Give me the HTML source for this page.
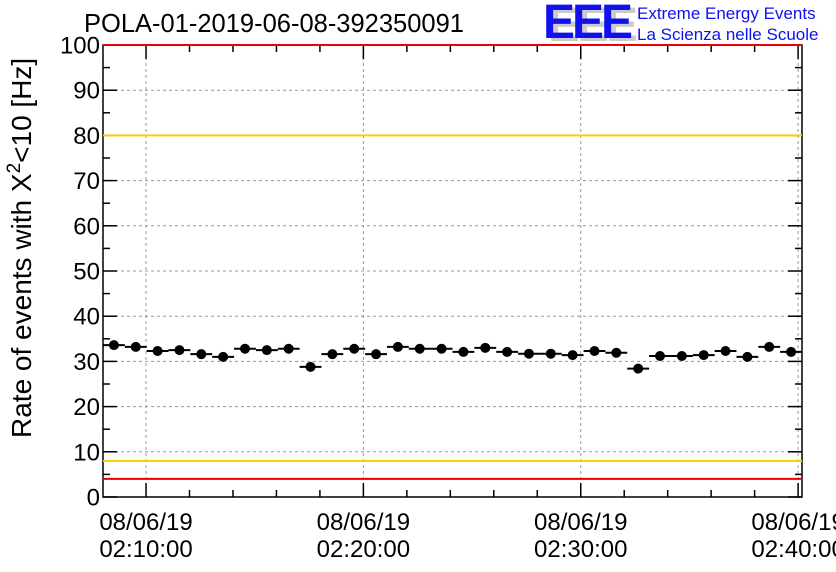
<!DOCTYPE html>
<html><head><meta charset="utf-8"><style>
body{margin:0;background:#fff;}
svg{display:block;font-family:"Liberation Sans",Arial,sans-serif;}
</style></head><body>
<svg id="chart" width="836" height="572" viewBox="0 0 836 572" xmlns="http://www.w3.org/2000/svg">
<rect x="0" y="0" width="836" height="572" fill="#fff"/>
<text x="84" y="32" font-size="25.5" fill="#000">POLA-01-2019-06-08-392350091</text>
<g>
<text x="548" y="41" font-size="48" font-weight="bold" fill="#ccc" letter-spacing="-3">EEE</text>
<text x="543" y="38" font-size="48" font-weight="bold" fill="#1010f0" letter-spacing="-3">EEE</text>
<text x="637" y="19" font-size="17" fill="#1010f0">Extreme Energy Events</text>
<text x="637" y="40" font-size="17" fill="#1010f0">La Scienza nelle Scuole</text>
</g>
<g id="grid"></g>
<g id="axes"></g>
<g id="marks"></g>
<text transform="translate(31,438) rotate(-90)" font-size="28" fill="#000">Rate of events with X<tspan dy="-11" font-size="19">2</tspan><tspan dy="11">&lt;10 [Hz]</tspan></text>
</svg>
<script>
const values = [33.6,33.2,32.3,32.5,31.6,31.0,32.8,32.5,32.8,28.8,31.6,32.8,31.6,33.2,32.8,32.8,32.1,33.0,32.1,31.7,31.7,31.4,32.3,31.9,28.4,31.2,31.2,31.4,32.3,31.0,33.2,32.1];
const yTicks = [0,10,20,30,40,50,60,70,80,90,100];
const xTickMinutes = [10,20,30,40];
const xTickLabels = ["02:10:00","02:20:00","02:30:00","02:40:00"];
const dateLabel = "08/06/19";
const redLines = [100,4];
const yellowLines = [80,8];
const startMin = 8.02, binMin = 1.005;

const L=103,R=802,T=45,B=497;
const nb=values.length;
const tEnd=startMin+binMin*nb;
const X=m=>L+(m-startMin)/(tEnd-startMin)*(R-L);
const Y=v=>B-v/100*(B-T);
const NS="http://www.w3.org/2000/svg";
function mk(tag,attrs,parent){const e=document.createElementNS(NS,tag);for(const k in attrs)e.setAttribute(k,attrs[k]);parent.appendChild(e);return e;}
const grid=document.getElementById('grid'),axes=document.getElementById('axes'),marks=document.getElementById('marks');

yTicks.forEach(v=>{if(v>0&&v<100){const g=mk('line',{x1:L,x2:R,y1:Y(v),y2:Y(v),stroke:'#999','stroke-dasharray':'3,3','stroke-width':1},grid);

}});
xTickMinutes.forEach(m=>{const x=X(m);if(x<R-2){const g=mk('line',{x1:x,x2:x,y1:T,y2:B,stroke:'#999','stroke-dasharray':'3,3','stroke-width':1},grid);

}});

redLines.forEach(v=>{const l=mk('line',{x1:L,x2:R,y1:Y(v),y2:Y(v),stroke:'#ee0000','stroke-width':2},marks);

});
yellowLines.forEach(v=>{const l=mk('line',{x1:L,x2:R,y1:Y(v),y2:Y(v),stroke:'#ffcc00','stroke-width':2},marks);

});

const fr=mk('rect',{x:L,y:T,width:R-L,height:B-T,fill:'none',stroke:'#000','stroke-width':1.5},axes);


for(let v=0;v<=100;v+=1){const major=v%10===0,mid=v%5===0;if(!mid&&!major)continue;const len=major?14:7;
mk('line',{x1:L,x2:L+len,y1:Y(v),y2:Y(v),stroke:'#000','stroke-width':1.5},axes);
mk('line',{x1:R,x2:R-len,y1:Y(v),y2:Y(v),stroke:'#000','stroke-width':1.5},axes);}
yTicks.forEach(v=>{const t=mk('text',{x:L-3,y:Y(v)+8.5,'font-size':24,'text-anchor':'end',fill:'#000'},axes);t.textContent=v;

});
for(let m=8;m<=41;m+=2){const x=X(m);if(x<L||x>R)continue;const major=m%10===0;const len=major?14:7;
mk('line',{x1:x,x2:x,y1:B,y2:B-len,stroke:'#000','stroke-width':1.5},axes);
mk('line',{x1:x,x2:x,y1:T,y2:T+len,stroke:'#000','stroke-width':1.5},axes);}
xTickMinutes.forEach((m,i)=>{const x=X(m);
const t1=mk('text',{x:x,y:530,'font-size':24,'text-anchor':'middle',fill:'#000'},axes);t1.textContent=dateLabel;


const t2=mk('text',{x:x,y:557,'font-size':24,'text-anchor':'middle',fill:'#000'},axes);t2.textContent=xTickLabels[i];

});

values.forEach((v,i)=>{const x0=X(startMin+i*binMin),x1=X(startMin+(i+1)*binMin),y=Y(v);
const l=mk('line',{x1:x0,x2:x1,y1:y,y2:y,stroke:'#000','stroke-width':2},marks);


const c=mk('circle',{cx:(x0+x1)/2,cy:y,r:5,fill:'#000'},marks);

});
</script>
</body></html>
